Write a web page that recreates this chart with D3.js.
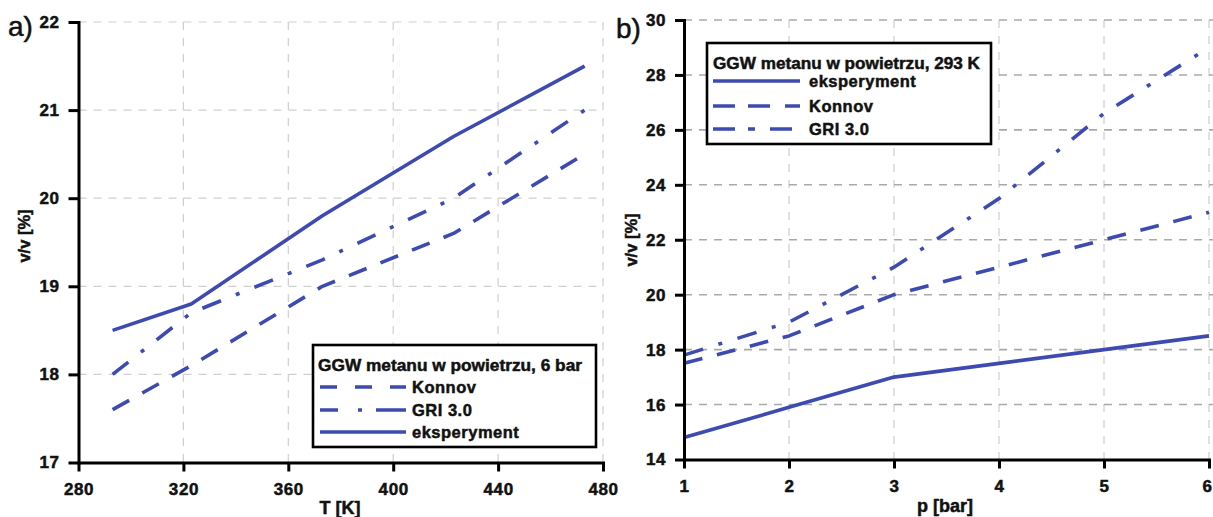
<!DOCTYPE html>
<html>
<head>
<meta charset="utf-8">
<script src="https://cdn.jsdelivr.net/npm/d3@7"></script>
<style>
  html, body { margin: 0; padding: 0; background: #fff; }
  svg { display: block; }
  svg text { font-family: "Liberation Sans", Arial, sans-serif; }
  .heavy { font-weight: bold; fill: #111; stroke: #111; stroke-width: 0.5px; }
</style>
</head>
<body>
<svg id="chart" width="1213" height="517"></svg>
<script>
// Panel a) – flammability limit vs temperature at 6 bar
const temperatureK = [293, 323, 373, 423, 473];
const tempEksperyment = [18.5, 18.8, 19.8, 20.7, 21.5];
const tempKonnov = [17.6, 18.1, 19.0, 19.6, 20.5];
const tempGri = [18.0, 18.7, 19.3, 20.0, 21.0];
const tempXTicks = [280, 320, 360, 400, 440, 480];
const tempYTicks = [17, 18, 19, 20, 21, 22];

// Panel b) – flammability limit vs pressure at 293 K
const pressureBar = [1, 2, 3, 4, 5, 6];
const presEksperyment = [14.8, 15.9, 17.0, 17.5, 18.0, 18.5];
const presKonnov = [17.5, 18.5, 20.0, 21.0, 22.0, 23.0];
const presGri = [17.8, 19.0, 21.0, 23.5, 26.6, 29.0];
const presXTicks = [1, 2, 3, 4, 5, 6];
const presYTicks = [14, 16, 18, 20, 22, 24, 26, 28, 30];

const BLUE = "#3d4bb1";
const DASH = { solid: null, konnov: "19,15", gri: "20,16,4,16" };
const SVG_W = 1213;

const svg = d3.select("#chart");

function drawPanel(cfg) {
  const g = svg.append("g");
  const x = d3.scaleLinear()
    .domain([cfg.xTicks[0], cfg.xTicks[cfg.xTicks.length - 1]])
    .range([cfg.left, cfg.right]);
  const y = d3.scaleLinear()
    .domain([cfg.yTicks[0], cfg.yTicks[cfg.yTicks.length - 1]])
    .range([cfg.bottom, cfg.top]);

  // grid
  const grid = g.append("g");
  grid.selectAll("line.gv").data(cfg.xTicks.slice(1)).join("line")
    .attr("x1", d => x(d)).attr("x2", d => x(d))
    .attr("y1", cfg.top).attr("y2", cfg.bottom)
    .attr("stroke", cfg.gridV).attr("stroke-width", 1.2)
    .attr("stroke-dasharray", "8,8");
  grid.selectAll("line.gh").data(cfg.yTicks.slice(1)).join("line")
    .attr("x1", cfg.left).attr("x2", cfg.gridRight)
    .attr("y1", d => y(d)).attr("y2", d => y(d))
    .attr("stroke", cfg.gridH).attr("stroke-width", cfg.gridHW)
    .attr("stroke-dasharray", "8,7");

  // series
  const line = d3.line().x(d => x(d[0])).y(d => y(d[1]));
  cfg.series.forEach(s => {
    g.append("path")
      .datum(cfg.xs.map((v, i) => [v, s.values[i]]))
      .attr("d", line)
      .attr("fill", "none")
      .attr("stroke", BLUE)
      .attr("stroke-width", 3.6)
      .attr("stroke-linejoin", "round")
      .attr("stroke-dasharray", s.dash);
  });

  // axes
  const xAxis = g.append("g")
    .attr("transform", `translate(0,${cfg.bottom})`)
    .call(d3.axisBottom(x).tickValues(cfg.xTicks).tickSize(9).tickSizeOuter(0)
      .tickPadding(11).tickFormat(d3.format("d")));
  const yAxis = g.append("g")
    .attr("transform", `translate(${cfg.left},0)`)
    .call(d3.axisLeft(y).tickValues(cfg.yTicks).tickSize(cfg.yTick).tickSizeOuter(0)
      .tickPadding(9).tickFormat(d3.format("d")));
  [xAxis, yAxis].forEach(a => {
    a.attr("font-family", null).attr("font-size", null);
    a.select(".domain").attr("stroke", "#000").attr("stroke-width", 3)
      .attr("stroke-linecap", "square");
    a.selectAll(".tick line").attr("stroke", "#000").attr("stroke-width", 3);
    a.selectAll(".tick text").attr("class", "heavy")
      .attr("font-size", 17).attr("letter-spacing", 0.6);
  });
  // keep the last x label inside the page edge
  xAxis.selectAll(".tick text").each(function () {
    const b = this.getBBox();
    const tx = x(d3.select(this.parentNode).datum());
    const overflow = tx + b.x + b.width - (SVG_W - 1);
    if (overflow > 0) d3.select(this).attr("x", -overflow);
  });

  // axis titles
  g.append("text").attr("class", "heavy")
    .attr("x", cfg.xTitle[0]).attr("y", cfg.xTitle[1])
    .attr("text-anchor", "middle")
    .attr("font-size", 18)
    .text(cfg.xLabel);
  g.append("text").attr("class", "heavy")
    .attr("transform", `translate(${cfg.yTitle[0]},${cfg.yTitle[1]}) rotate(-90)`)
    .attr("text-anchor", "middle").attr("dy", "0.35em")
    .attr("font-size", 16.5)
    .text("v/v [%]");

  // panel letter
  g.append("text")
    .attr("x", cfg.letter[0]).attr("y", cfg.letter[1])
    .attr("font-size", 28).attr("fill", "#111")
    .attr("stroke", "#111").attr("stroke-width", 0.5)
    .text(cfg.letterText);

  // legend
  const L = cfg.legend;
  const lg = g.append("g");
  lg.append("rect")
    .attr("x", L.x).attr("y", L.y).attr("width", L.w).attr("height", L.h)
    .attr("fill", "#fff").attr("stroke", "#000").attr("stroke-width", 2.6);
  lg.append("text").attr("class", "heavy")
    .attr("x", L.titleX).attr("y", L.titleY).attr("dy", "0.35em")
    .attr("font-size", 16.5)
    .attr("textLength", L.titleLen).attr("lengthAdjust", "spacingAndGlyphs")
    .text(L.title);
  L.items.forEach(it => {
    lg.append("line")
      .attr("x1", L.sx0).attr("x2", L.sx1).attr("y1", it.y).attr("y2", it.y)
      .attr("stroke", BLUE).attr("stroke-width", 3.6)
      .attr("stroke-dasharray", it.dash);
    lg.append("text").attr("class", "heavy")
      .attr("x", L.tx).attr("y", it.y).attr("dy", "0.35em")
      .attr("font-size", 16.5).attr("letter-spacing", 0.5)
      .text(it.label);
  });
}

drawPanel({
  xs: temperatureK, xTicks: tempXTicks, yTicks: tempYTicks,
  left: 78.5, right: 603, top: 22, bottom: 462.5, gridRight: 603, yTick: 10,
  gridV: "#cfcfcf", gridH: "#cfcfcf", gridHW: 1.2,
  series: [
    { values: tempEksperyment, dash: DASH.solid },
    { values: tempKonnov, dash: DASH.konnov },
    { values: tempGri, dash: DASH.gri }
  ],
  xLabel: "T [K]", xTitle: [340, 514], yTitle: [24, 236],
  letter: [8, 36], letterText: "a)",
  legend: {
    x: 313, y: 345, w: 283, h: 102,
    title: "GGW metanu w powietrzu, 6 bar", titleX: 318, titleY: 365, titleLen: 264,
    sx0: 320, sx1: 406, tx: 412,
    items: [
      { label: "Konnov", y: 387, dash: "17,18" },
      { label: "GRI 3.0", y: 410, dash: "18,20,4,14,30" },
      { label: "eksperyment", y: 432, dash: null }
    ]
  }
});

drawPanel({
  xs: pressureBar, xTicks: presXTicks, yTicks: presYTicks,
  left: 684, right: 1209, top: 20, bottom: 459.5, gridRight: 1213, yTick: 9,
  gridV: "#cdcdcd", gridH: "#a9a9a9", gridHW: 1.6,
  series: [
    { values: presEksperyment, dash: DASH.solid },
    { values: presKonnov, dash: DASH.konnov },
    { values: presGri, dash: DASH.gri }
  ],
  xLabel: "p [bar]", xTitle: [945, 512], yTitle: [631, 240],
  letter: [616, 38], letterText: "b)",
  legend: {
    x: 707, y: 43, w: 284, h: 101,
    title: "GGW metanu w powietrzu, 293 K", titleX: 713, titleY: 63, titleLen: 267,
    sx0: 713, sx1: 800, tx: 809,
    items: [
      { label: "eksperyment", y: 81, dash: null },
      { label: "Konnov", y: 106, dash: "22,13,22,15" },
      { label: "GRI 3.0", y: 129, dash: "22,13,7,15,22" }
    ]
  }
});
</script>
</body>
</html>
